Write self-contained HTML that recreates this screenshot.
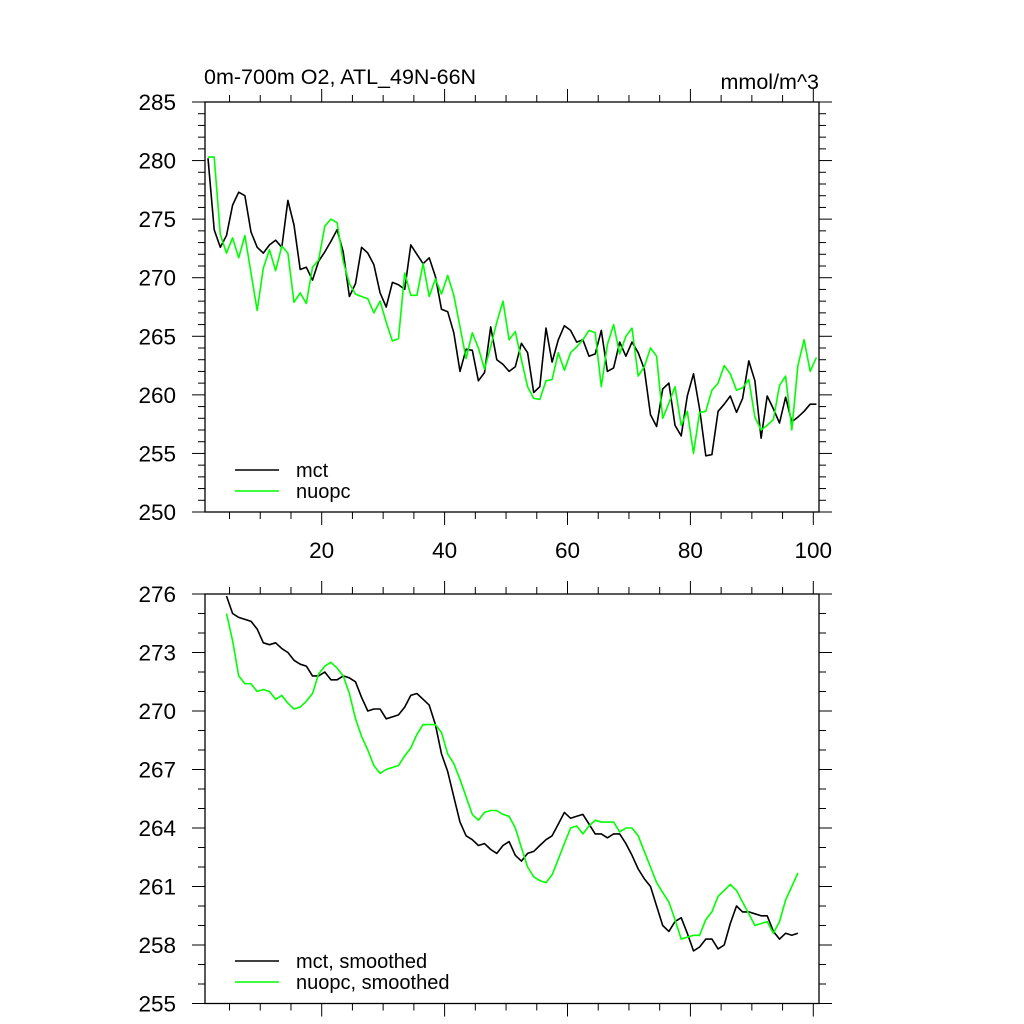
<!DOCTYPE html>
<html><head><meta charset="utf-8"><style>
html,body{margin:0;padding:0;background:#fff;}
svg{display:block;font-family:"Liberation Sans",sans-serif;}
</style></head><body>
<svg id="chart" width="1024" height="1024" viewBox="0 0 1024 1024" xmlns="http://www.w3.org/2000/svg">
<rect x="0" y="0" width="1024" height="1024" fill="#fff"/>
<g id="top"></g>
<g id="bot"></g>
</svg>
<script>
const mctRaw = [280.2,274.1,272.6,273.6,276.2,277.3,277.0,273.9,272.6,272.1,272.8,273.2,272.6,276.6,274.5,270.7,270.9,269.8,271.4,272.2,273.1,274.1,272.2,268.4,269.5,272.6,272.1,271.1,268.7,267.5,269.6,269.4,269.0,272.8,272.0,271.2,271.7,270.1,267.3,267.1,265.3,262.0,263.9,263.8,261.2,261.9,265.8,263.0,262.6,262.0,262.4,264.4,263.6,260.2,260.7,265.7,262.8,264.7,265.9,265.5,264.5,264.7,263.3,263.5,265.5,262.0,262.3,264.5,263.3,264.5,263.6,262.2,258.3,257.3,260.5,261.0,257.4,256.5,259.9,261.8,258.8,254.8,254.9,258.6,259.2,259.9,258.5,259.7,262.9,261.2,256.3,259.9,258.8,257.6,259.8,257.7,258.1,258.6,259.2,259.2];
const nuopcRaw = [280.3,280.3,273.7,272.1,273.4,271.7,273.6,270.4,267.2,270.8,272.4,270.6,272.7,272.1,267.9,268.7,267.8,270.9,271.5,274.4,275.0,274.7,271.4,269.5,268.6,268.4,268.2,267.0,268.0,266.2,264.6,264.8,270.4,268.5,268.5,271.2,268.4,269.9,268.6,270.2,268.5,265.8,263.1,265.3,264.0,262.2,264.1,266.2,268.0,264.7,265.4,263.0,260.7,259.7,259.6,261.2,261.3,263.6,262.1,263.6,264.1,264.7,265.5,265.3,260.7,264.3,266.0,263.5,265.0,265.7,261.6,262.4,264.0,263.3,258.0,259.3,260.7,257.4,258.6,255.0,258.5,258.6,260.4,261.0,262.5,261.8,260.4,260.6,261.3,258.1,257.0,257.4,257.9,260.8,261.6,257.0,262.5,264.7,262.0,263.2];
const mctSmooth = [275.9,275.0,274.8,274.7,274.6,274.2,273.5,273.4,273.5,273.2,273.0,272.6,272.4,272.3,271.8,271.8,272.0,271.6,271.6,271.8,271.7,271.5,270.7,270.0,270.1,270.1,269.6,269.7,269.8,270.2,270.8,270.9,270.6,270.3,269.3,267.8,266.9,265.6,264.3,263.6,263.4,263.1,263.2,262.9,262.7,263.1,263.3,262.6,262.3,262.7,262.8,263.1,263.4,263.6,264.2,264.8,264.5,264.6,264.7,264.2,263.7,263.7,263.5,263.7,263.7,263.2,262.6,261.9,261.4,261.0,260.0,259.0,258.7,259.2,259.4,258.6,257.7,257.9,258.3,258.3,257.8,258.0,259.1,260.0,259.7,259.7,259.6,259.5,259.5,258.7,258.3,258.6,258.5,258.6];
const nuopcSmooth = [275.0,273.6,271.8,271.4,271.4,271.0,271.1,271.0,270.6,270.8,270.4,270.1,270.2,270.5,270.9,271.9,272.3,272.5,272.2,271.8,270.9,269.6,268.7,268.0,267.2,266.8,267.0,267.1,267.2,267.7,268.1,268.8,269.3,269.3,269.3,268.9,267.8,267.3,266.5,265.6,264.7,264.4,264.8,264.9,264.9,264.7,264.6,264.0,263.0,262.0,261.5,261.3,261.2,261.6,262.4,263.2,264.0,264.1,263.7,264.1,264.4,264.3,264.3,264.3,263.8,264.0,264.0,263.6,262.8,262.0,261.2,260.7,260.2,259.3,258.3,258.4,258.5,258.5,259.3,259.7,260.5,260.8,261.1,260.8,260.2,259.6,259.0,259.1,259.2,258.6,259.2,260.3,261.0,261.7];
const rawStartX = 1.5;
const smoothStartX = 4.5;
const topYTicks = [250,255,260,265,270,275,280,285];
const botYTicks = [255,258,261,264,267,270,273,276];
const xTickLabels = [20,40,60,80,100];

const NS="http://www.w3.org/2000/svg";
const L=205, R=819;
const xs = x => 198.8 + 6.145*x;
function mk(parent, tag, attrs){const e=document.createElementNS(NS,tag);for(const k in attrs)e.setAttribute(k,attrs[k]);parent.appendChild(e);return e;}

function panel(g, top, bot, ymin, ymax, yMinorStep, yTicks, showXLabels){
  const ys = v => bot - (v-ymin)/(ymax-ymin)*(bot-top);
  const frame = mk(g,'rect',{x:L,y:top,width:R-L,height:bot-top,fill:'none',stroke:'#000','stroke-width':1.3});
  
  
  for(let v=ymin; v<=ymax+1e-6; v+=yMinorStep){
    const major = yTicks.some(t=>Math.abs(t-v)<1e-6);
    const len = major?13:7;
    const y=ys(v);
    const t1=mk(g,'line',{x1:L-len,y1:y,x2:L,y2:y,stroke:'#000','stroke-width':1});
    
    
    const t2=mk(g,'line',{x1:R,y1:y,x2:R+len,y2:y,stroke:'#000','stroke-width':1});
    
    
  }
  yTicks.forEach(v=>{
    const t=mk(g,'text',{x:176,y:ys(v)+8,'text-anchor':'end','font-size':22.5,fill:'#000'});
    t.textContent=v;
    
    
  });
  for(let x=5;x<=100;x+=5){
    const major = x%20===0;
    const len = major?13:7;
    const px=xs(x);
    const a=mk(g,'line',{x1:px,y1:top-len,x2:px,y2:top,stroke:'#000','stroke-width':1});
    
    
    const b=mk(g,'line',{x1:px,y1:bot,x2:px,y2:bot+len,stroke:'#000','stroke-width':1});
    
    
  }
  if(showXLabels){
    xTickLabels.forEach(x=>{
      const t=mk(g,'text',{x:xs(x),y:bot+46,'text-anchor':'middle','font-size':22.5,fill:'#000'});
      t.textContent=x;
      
      
    });
  }
  return ys;
}
function series(g, data, x0, ys, color, name){
  const pts = data.map((v,i)=>xs(x0+i).toFixed(1)+','+ys(v).toFixed(1)).join(' ');
  const p=mk(g,'polyline',{points:pts,fill:'none',stroke:color,'stroke-width':1.6,'stroke-linejoin':'round'});
  
  
}
function legend(g, y, label, color){
  const l=mk(g,'line',{x1:235,y1:y,x2:279,y2:y,stroke:color,'stroke-width':1.6});
  
  
  const t=mk(g,'text',{x:296,y:y+7,'font-size':20,fill:'#000'});
  t.textContent=label;
  
  
}

const gt=document.getElementById('top');
const ysT=panel(gt,102,512,250,285,1,topYTicks,true);
series(gt,mctRaw,rawStartX,ysT,'#000','mct-line');
series(gt,nuopcRaw,rawStartX,ysT,'#00ff00','nuopc-line');
legend(gt,470,'mct','#000');
legend(gt,491,'nuopc','#00ff00');
const tt=mk(gt,'text',{x:204,y:84,'font-size':21.5,fill:'#000'});
tt.textContent='0m-700m O2, ATL_49N-66N';


const tu=mk(gt,'text',{x:819,y:89,'text-anchor':'end','font-size':21.5,fill:'#000'});
tu.textContent='mmol/m^3';



const gb=document.getElementById('bot');
const ysB=panel(gb,594,1003.5,255,276,1,botYTicks,false);
series(gb,mctSmooth,smoothStartX,ysB,'#000','mct-smoothed-line');
series(gb,nuopcSmooth,smoothStartX,ysB,'#00ff00','nuopc-smoothed-line');
legend(gb,961,'mct, smoothed','#000');
legend(gb,982,'nuopc, smoothed','#00ff00');
</script>
</body></html>
